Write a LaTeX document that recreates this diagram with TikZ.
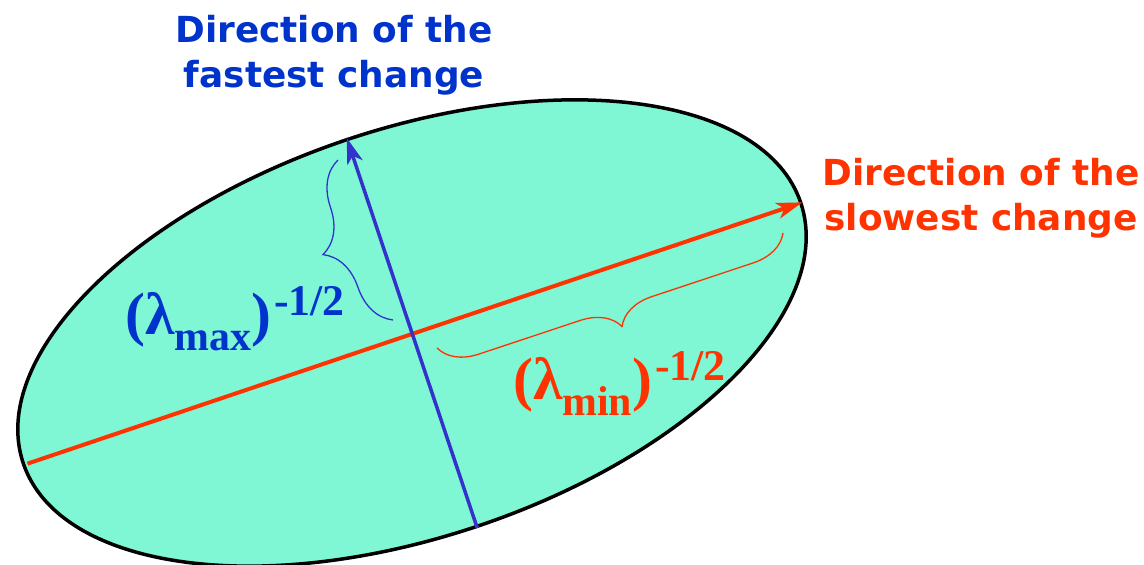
\documentclass[tikz,border=0pt]{standalone}
\usepackage{fontspec}
\setmainfont{Liberation Serif}
\newfontfamily\titlefont{DejaVu Sans}
\usetikzlibrary{arrows.meta, decorations.pathreplacing, shapes.geometric}

\definecolor{blobfill}{HTML}{7FF7D4}
\definecolor{fastline}{HTML}{3333CC}
\definecolor{fasttext}{HTML}{0033CC}
\definecolor{slowred}{HTML}{FF3300}

% (lambda_x)^(-1/2) label
\newcommand{\eiglabel}[1]{{\bfseries\fontsize{60}{60}\selectfont
  (λ\raisebox{-16bp}{\fontsize{42}{42}\selectfont #1})\kern3bp\raisebox{19bp}{\fontsize{44}{44}\selectfont -1/2}}}

\begin{document}
\begin{tikzpicture}[x=1bp, y=1bp,
  title/.style={font=\titlefont\bfseries\fontsize{36}{46}\selectfont, align=center, inner sep=0pt},
  axisline/.style={line width=#1, -{Stealth[length=26bp, width=16bp, inset=7bp]}},
  bracket/.style={decorate, line width=1.3bp, decoration={brace, amplitude=#1}}]
\useasboundingbox (0,0) rectangle (1144,565);

% Ellipse
\node[ellipse, draw, line width=3.5bp, fill=blobfill, inner sep=0pt,
  minimum width=820bp, minimum height=408bp, rotate=18.5] (blob) at (412,232) {};

% Axes
\draw[axisline=4bp, slowred] ([xshift=6bp]blob.west) -- (blob.east);
\draw[axisline=3.5bp, fastline] (blob.south) -- (blob.north);

% Braces
\coordinate (maxlo) at (393,245);
\coordinate (maxhi) at (338,405);
\coordinate (minhi) at (783,332);
\coordinate (minlo) at (437,217);
\draw[bracket=45bp, fastline] (maxlo) -- (maxhi);
\draw[bracket=38bp, slowred] (minhi) -- (minlo);

% Labels
\node[anchor=base west, inner sep=0pt, text=fasttext] (maxlbl) at (125,230) {\eiglabel{max}};
\node[anchor=base west, inner sep=0pt, text=slowred] (minlbl) at (513,165) {\eiglabel{min}};

% Titles (base = last line)
\node[title, text=fasttext, anchor=base] (fasttitle) at (334,477) {Direction of the\\fastest change};
\node[title, text=slowred, anchor=base] (slowtitle) at (981,334) {Direction of the\\slowest change};

\end{tikzpicture}
\end{document}
